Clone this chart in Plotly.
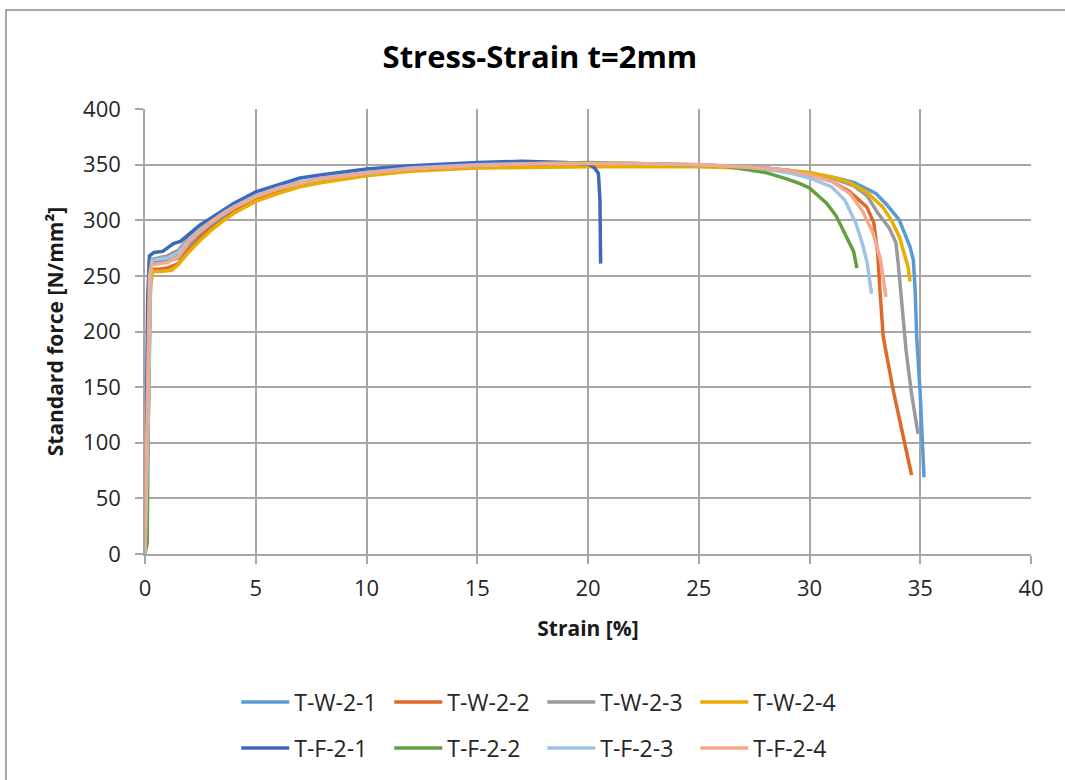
import plotly.graph_objects as go

# ---- data (strain %, stress N/mm²) ----
series_names = ["T-W-2-1", "T-W-2-2", "T-W-2-3", "T-W-2-4",
                "T-F-2-1", "T-F-2-2", "T-F-2-3", "T-F-2-4"]
series_colors = ["#5B9BD5", "#DD6A2A", "#9A9A9A", "#E9AE00",
                 "#4068B8", "#62A03E", "#9DC3E6", "#F4A98C"]

strain_TW21 = [0, 0.12, 0.2, 0.28, 0.5, 1.0, 1.5, 2.0, 2.5, 3.0, 3.5, 4, 5, 6, 7, 8, 10, 12, 15, 18, 20, 22, 25, 27, 28, 29, 30, 31, 32, 33, 33.49, 34.06, 34.54, 34.69, 34.77, 34.84, 34.99, 35.14, 35.17]
stress_TW21 = [0, 120, 240, 262, 262, 263, 266, 279, 288, 296, 303, 309, 320, 327, 332, 336, 341, 345, 348, 349, 349, 349, 349, 348, 347, 345, 342, 339, 334, 324, 314, 300, 276, 264, 237, 195, 147, 76, 69]

strain_TW22 = [0, 0.15, 0.25, 0.35, 0.6, 1.0, 1.5, 2.0, 2.5, 3.0, 3.5, 4, 5, 6, 7, 8, 10, 12, 15, 18, 20, 22, 25, 27, 28, 29, 30, 31, 31.8, 32.58, 32.9, 33.08, 33.18, 33.33, 33.78, 34.2, 34.61]
stress_TW22 = [0, 130, 245, 256, 256, 257, 261, 274, 285, 293, 300, 307, 318, 326, 331, 335, 341, 345, 349, 350, 350, 350, 349, 348, 346, 344, 341, 335, 326, 312, 298, 270, 237, 195, 147, 108, 71]

strain_TW23 = [0, 0.15, 0.22, 0.3, 0.6, 1.0, 1.5, 2.0, 2.5, 3.0, 3.5, 4, 5, 6, 7, 8, 10, 12, 15, 18, 20, 22, 25, 27, 28, 29, 30, 31, 32, 32.6, 33.1, 33.6, 33.9, 34.0, 34.06, 34.2, 34.36, 34.6, 34.9]
stress_TW23 = [0, 125, 250, 265, 266, 268, 273, 285, 293, 300, 306, 312, 322, 329, 334, 338, 343, 347, 350, 351, 351, 351, 350, 348, 347, 345, 342, 338, 331, 322, 306, 293, 280, 262, 250, 215, 183, 145, 108]

strain_TW24 = [0, 0.15, 0.25, 0.35, 0.7, 1.2, 1.5, 2.0, 2.5, 2.93, 3.5, 4, 5, 6, 7, 8, 10, 12, 15, 18, 20, 22, 25, 27, 28, 29, 30, 31, 31.8, 32.6, 33.3, 33.7, 34.06, 34.3, 34.45, 34.54]
stress_TW24 = [0, 120, 240, 254, 254, 255, 260, 272, 282, 290, 299, 306, 317, 324, 330, 334, 340, 344, 347, 348, 348, 348, 348, 347, 346, 345, 343, 339, 334, 325, 312, 300, 285, 270, 258, 245]

strain_TF21 = [0, 0.05, 0.12, 0.2, 0.4, 0.8, 1.28, 1.6, 2.0, 2.5, 2.9, 3.5, 4, 5, 6, 7, 8, 10, 12, 15, 17, 19, 20.06, 20.3, 20.47, 20.54, 20.57]
stress_TF21 = [0, 110, 230, 268, 271, 272, 279, 281, 288, 296, 301, 309, 315, 325.5, 332, 338, 341, 346, 349, 352, 353, 352, 350, 347, 342, 318, 261]

strain_TF22 = [0, 0.1, 0.15, 0.22, 0.3, 0.6, 1.0, 1.5, 2.0, 2.5, 3.0, 3.5, 4, 5, 6, 7, 8, 10, 12, 15, 18, 20, 22, 25, 26, 27, 28, 29, 29.57, 30, 30.78, 31.2, 31.53, 31.8, 31.99, 32.14]
stress_TF22 = [0, 10, 130, 250, 264, 265, 266, 270, 282, 291, 298, 305, 311, 321, 328, 333, 337, 342, 346, 349, 351, 352, 351, 350, 349, 346, 343, 337, 333, 329, 315, 304, 291, 280, 272, 257]

strain_TF23 = [0, 0.15, 0.25, 0.32, 0.6, 1.0, 1.5, 2.0, 2.5, 3.0, 3.5, 4, 5, 6, 7, 8, 10, 12, 15, 18, 20, 22, 25, 27, 28, 29, 30, 31, 31.6, 32.1, 32.4, 32.6, 32.8]
stress_TF23 = [0, 125, 250, 264, 265, 266, 271, 283, 292, 299, 306, 312, 322, 329, 334, 338, 343, 347, 350, 351, 351, 351, 350, 348, 346, 343, 338, 330, 318, 297, 278, 262, 234]

strain_TF24 = [0, 0.1, 0.2, 0.3, 0.6, 1.0, 1.5, 2.0, 2.5, 3.0, 3.5, 4, 5, 6, 7, 8, 10, 12, 15, 18, 20, 22, 25, 27, 28, 29, 30, 31, 31.83, 32.4, 32.88, 33.2, 33.45]
stress_TF24 = [3, 120, 250, 260, 261, 262, 267, 281, 290, 298, 305, 311, 321, 328, 333, 337, 342, 346, 349, 351, 351, 351, 350, 348, 347, 345, 341, 335, 324, 308, 288, 265, 231]

x_ticks = [0, 5, 10, 15, 20, 25, 30, 35, 40]
y_ticks = [0, 50, 100, 150, 200, 250, 300, 350, 400]

all_strain = [strain_TW21, strain_TW22, strain_TW23, strain_TW24,
              strain_TF21, strain_TF22, strain_TF23, strain_TF24]
all_stress = [stress_TW21, stress_TW22, stress_TW23, stress_TW24,
              stress_TF21, stress_TF22, stress_TF23, stress_TF24]

FONT = "Open Sans"
fig = go.Figure()
for i, (name, col, xs, ys) in enumerate(zip(series_names, series_colors, all_strain, all_stress)):
    fig.add_trace(go.Scatter(
        x=xs, y=ys, mode="lines", name=name,
        line=dict(color=col, width=3.5),
        legend="legend" if i < 4 else "legend2",
    ))

legend_common = dict(
    orientation="h", xref="paper", yref="paper",
    xanchor="left", yanchor="middle",
    font=dict(family=FONT, size=23, color="#262626"),
    entrywidth=90, entrywidthmode="pixels",
    itemwidth=48,
    bgcolor="rgba(0,0,0,0)", borderwidth=0,
    traceorder="normal",
)

fig.update_layout(
    width=1065, height=780,
    margin=dict(l=145, r=34, t=109, b=226, autoexpand=False),
    paper_bgcolor="white", plot_bgcolor="white",
    title=dict(text="Stress-Strain t=2mm", x=0.507, xanchor="center",
               y=1 - 57 / 780, yanchor="middle",
               font=dict(family=FONT, size=31, color="#000000", weight="bold")),
    legend=dict(x=0.103, y=(554 - 702) / 445, **legend_common),
    legend2=dict(x=0.103, y=(554 - 748) / 445, **legend_common),
    showlegend=True,
)

fig.update_xaxes(
    range=[0, 40], tickvals=x_ticks, ticktext=[str(v) for v in x_ticks],
    showgrid=True, gridcolor="#A6A6A6", gridwidth=1.5,
    showline=True, linecolor="#A6A6A6", linewidth=1.5,
    ticks="outside", ticklen=8, tickcolor="#A6A6A6", tickwidth=1.5,
    ticklabelstandoff=6,
    zeroline=False,
    tickfont=dict(family=FONT, size=22, color="#262626"),
    title=dict(text="Strain [%]", standoff=20,
               font=dict(family=FONT, size=21, color="#1a1a1a", weight="bold")),
)
fig.update_yaxes(
    range=[0, 400], tickvals=y_ticks, ticktext=[str(v) for v in y_ticks],
    showgrid=True, gridcolor="#A6A6A6", gridwidth=1.5,
    showline=True, linecolor="#A6A6A6", linewidth=1.5,
    ticks="outside", ticklen=8, tickcolor="#A6A6A6", tickwidth=1.5,
    ticklabelstandoff=10,
    zeroline=False,
    tickfont=dict(family=FONT, size=22, color="#262626"),
    title=dict(text="Standard force [N/mm²]", standoff=14,
               font=dict(family=FONT, size=21, color="#1a1a1a", weight="bold")),
)

# outer chart border
fig.add_shape(type="rect", xref="paper", yref="paper",
              x0=(6 - 145) / 886, x1=1.08, y0=-0.6, y1=(554 - 10) / 445,
              line=dict(color="#8C8C8C", width=1.5), fillcolor="rgba(0,0,0,0)",
              layer="below")

fig.write_html("out.html", config={"displayModeBar": False},
               post_script="document.body.style.margin='0';")
